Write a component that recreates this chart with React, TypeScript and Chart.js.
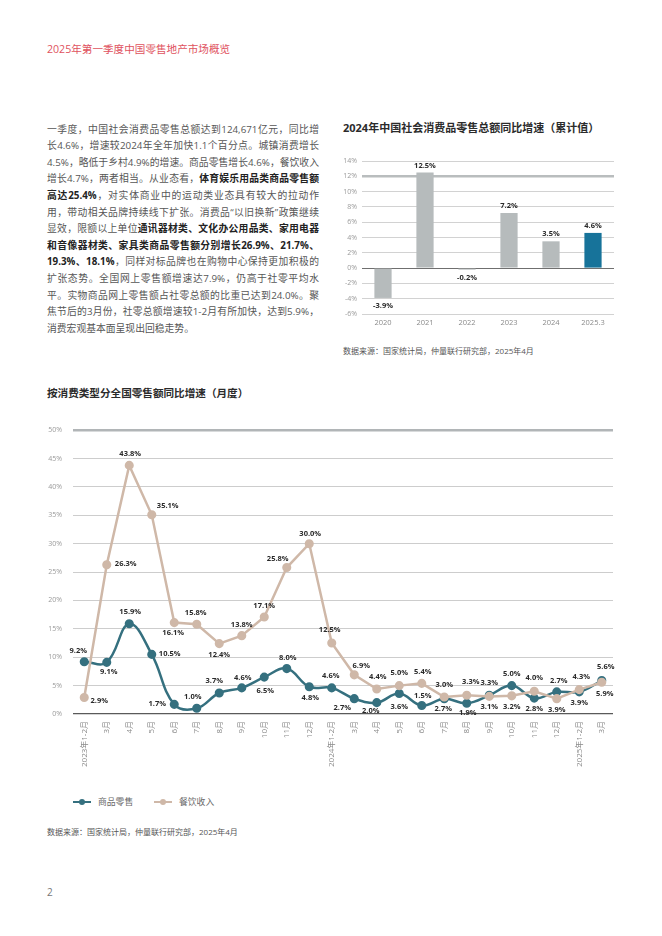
import React, { useEffect, useRef } from "react";
import { Chart, registerables } from "chart.js";

Chart.register(...registerables);

const FONT = '"Open Sans", "Noto Sans CJK SC", "Noto Sans", sans-serif';

// ---------- Bar chart data ----------
const barCategories = ["2020", "2021", "2022", "2023", "2024", "2025.3"];
const barValues = [-3.9, 12.5, -0.2, 7.2, 3.5, 4.6];
const barMin = -6;
const barMax = 14;
const barStep = 2;

// ---------- Line chart data ----------
const monthLabels = [
  "2023年1-2月", "3月", "4月", "5月", "6月", "7月", "8月", "9月", "10月", "11月", "12月",
  "2024年1-2月", "3月", "4月", "5月", "6月", "7月", "8月", "9月", "10月", "11月", "12月",
  "2025年1-2月", "3月",
];
const goodsValues = [
  9.2, 9.1, 15.9, 10.5, 1.7, 1.0, 3.7, 4.6, 6.5, 8.0, 4.8,
  4.6, 2.7, 2.0, 3.6, 1.5, 2.7, 1.9, 3.3, 5.0, 2.8, 3.9,
  3.9, 5.9,
];
const cateringValues = [
  2.9, 26.3, 43.8, 35.1, 16.1, 15.8, 12.4, 13.8, 17.1, 25.8, 30.0,
  12.5, 6.9, 4.4, 5.0, 5.4, 3.0, 3.3, 3.1, 3.2, 4.0, 2.7,
  4.3, 5.6,
];
const seriesNames = ["商品零售", "餐饮收入"];
const lineMin = 0;
const lineMax = 50;
const lineStep = 5;

// label placement (style only): offset of label centre from its point
const goodsLabelOffsets: [number, number][] = [
  [-6, -11], [2, 10], [1, -12], [18, -1], [-17, 0], [-4, -11], [-5, -12], [1, -10], [1, 14], [1, -11], [1, 11],
  [-1, -12], [-12, 9], [-6, 8], [0, 13], [1, -10], [-1, 10], [1, 10], [0, -12], [0, -12], [0, 11], [0, 18],
  [0, 11], [3, 13],
];
const cateringLabelOffsets: [number, number][] = [
  [15, 3], [19, -1], [1, -12], [16, -9], [-1, 10], [-1, -11], [0, 11], [0, -11], [0, -11], [-9, -9], [1, -10],
  [-2, -13], [7, -9], [1, -12], [0, -13], [1, -11], [0, -12], [4, -13], [0, 10], [0, 11], [0, -13], [2, -18],
  [2, -13], [4, -15],
];

const GOODS_COLOR = "#35707f";
const CATERING_COLOR = "#cfb8a8";
const BAR_GRAY = "#b6bbbc";
const BAR_BLUE = "#17739a";

const paragraph: [string, boolean][][] = [
  [["一季度，中国社会消费品零售总额达到124,671亿元，同比增", false]],
  [["长4.6%，增速较2024年全年加快1.1个百分点。城镇消费增长", false]],
  [["4.5%，略低于乡村4.9%的增速。商品零售增长4.6%，餐饮收入", false]],
  [["增长4.7%，两者相当。从业态看，", false], ["体育娱乐用品类商品零售额", true]],
  [["高达25.4%", true], ["，对实体商业中的运动类业态具有较大的拉动作", false]],
  [["用，带动相关品牌持续线下扩张。消费品“以旧换新”政策继续", false]],
  [["显效，限额以上单位", false], ["通讯器材类、文化办公用品类、家用电器", true]],
  [["和音像器材类、家具类商品零售额分别增长26.9%、21.7%、", true]],
  [["19.3%、18.1%", true], ["，同样对标品牌也在购物中心保持更加积极的", false]],
  [["扩张态势。全国网上零售额增速达7.9%，仍高于社零平均水", false]],
  [["平。实物商品网上零售额占社零总额的比重已达到24.0%。聚", false]],
  [["焦节后的3月份，社零总额增速较1-2月有所加快，达到5.9%，", false]],
  [["消费宏观基本面呈现出回稳走势。", false]],
];

const barLabelPlugin = {
  id: "barLabels",
  afterDatasetsDraw(chart: any) {
    const ctx = chart.ctx;
    ctx.save();
    ctx.font = `bold 7.5px ${FONT}`;
    ctx.fillStyle = "#2a2a2a";
    ctx.textAlign = "center";
    ctx.textBaseline = "middle";
    const meta = chart.getDatasetMeta(0);
    const ds = chart.data.datasets[0];
    meta.data.forEach((bar: any, i: number) => {
      const v = ds.data[i] as number;
      const y = v >= 0 ? bar.y - 7 : bar.y + 8;
      ctx.fillText(v.toFixed(1) + "%", bar.x, y);
    });
    ctx.restore();
  },
};

const lineLabelPlugin = {
  id: "lineLabels",
  afterDatasetsDraw(chart: any) {
    const ctx = chart.ctx;
    ctx.save();
    ctx.font = `bold 7.5px ${FONT}`;
    ctx.fillStyle = "#2a2a2a";
    ctx.textAlign = "center";
    ctx.textBaseline = "middle";
    chart.data.datasets.forEach((ds: any, di: number) => {
      const meta = chart.getDatasetMeta(di);
      const offs: [number, number][] = ds.labelOffsets;
      meta.data.forEach((pt: any, i: number) => {
        const v = ds.data[i] as number;
        const [dx, dy] = offs[i] || [0, -12];
        ctx.fillText(v.toFixed(1) + "%", pt.x + dx, pt.y + dy);
      });
    });
    ctx.restore();
  },
};

export default function App() {
  const barRef = useRef<HTMLCanvasElement>(null);
  const lineRef = useRef<HTMLCanvasElement>(null);

  useEffect(() => {
    document.body.style.margin = "0";
    const barChart = new Chart(barRef.current as HTMLCanvasElement, {
      type: "bar",
      data: {
        labels: barCategories,
        datasets: [
          {
            data: barValues,
            backgroundColor: barCategories.map((_, i) => (i === barCategories.length - 1 ? BAR_BLUE : BAR_GRAY)),
            categoryPercentage: 1,
            barPercentage: 0.41,
          },
        ],
      },
      options: {
        animation: false,
        responsive: false,
        devicePixelRatio: 1,
        layout: { padding: { top: 11, right: 6, left: 0, bottom: 0 } },
        plugins: { legend: { display: false }, tooltip: { enabled: false } },
        scales: {
          x: {
            grid: { display: false, drawTicks: false },
            border: { display: false },
            ticks: { color: "#8a8a8a", font: { family: FONT, size: 7.5 }, padding: 4, maxRotation: 0 },
            afterFit: (s: any) => { s.height = 18; },
          },
          y: {
            min: barMin,
            max: barMax,
            grid: {
              drawTicks: false,
              color: (c: any) => (c.tick && c.tick.value === 0 ? "#6f6f6f" : c.tick && c.tick.value === 12 ? "#b9bdbe" : "#d2d2d2"),
              lineWidth: (c: any) => (c.tick && c.tick.value === 12 ? 2.5 : 1),
            },
            border: { display: false },
            ticks: {
              stepSize: barStep,
              color: "#9a9a9a",
              font: { family: FONT, size: 7 },
              padding: 5,
              callback: (v: any) => v + "%",
            },
            afterFit: (s: any) => { s.width = 27; },
          },
        },
      },
      plugins: [barLabelPlugin],
    });

    const lineChart = new Chart(lineRef.current as HTMLCanvasElement, {
      type: "line",
      data: {
        labels: monthLabels,
        datasets: [
          {
            label: seriesNames[0],
            data: goodsValues,
            borderColor: GOODS_COLOR,
            backgroundColor: GOODS_COLOR,
            pointBackgroundColor: GOODS_COLOR,
            pointBorderColor: GOODS_COLOR,
            borderWidth: 2.5,
            pointRadius: 3.3,
            tension: 0.4,
            order: 1,
            labelOffsets: goodsLabelOffsets,
          } as any,
          {
            label: seriesNames[1],
            data: cateringValues,
            borderColor: CATERING_COLOR,
            backgroundColor: CATERING_COLOR,
            pointBackgroundColor: CATERING_COLOR,
            pointBorderColor: CATERING_COLOR,
            borderWidth: 2.5,
            pointRadius: 3.3,
            tension: 0,
            order: 0,
            labelOffsets: cateringLabelOffsets,
          } as any,
        ],
      },
      options: {
        animation: false,
        responsive: false,
        devicePixelRatio: 1,
        layout: { padding: { top: 13, right: 7, left: 0, bottom: 0 } },
        plugins: { legend: { display: false }, tooltip: { enabled: false } },
        scales: {
          x: {
            offset: true,
            grid: { display: false, drawTicks: false, offset: true },
            border: { display: false },
            ticks: {
              color: "#8a8a8a",
              font: { family: FONT, size: 8 },
              padding: 7,
              minRotation: 90,
              maxRotation: 90,
              autoSkip: false,
            },
            afterFit: (s: any) => { s.height = 76; },
          },
          y: {
            min: lineMin,
            max: lineMax,
            grid: {
              drawTicks: false,
              color: (c: any) => (c.tick && c.tick.value === 0 ? "#5a5a5a" : c.tick && c.tick.value === 50 ? "#b1b5b7" : "#cdcdcd"),
              lineWidth: (c: any) => (c.tick && c.tick.value === 50 ? 2.5 : c.tick && c.tick.value === 0 ? 1.3 : 1),
            },
            border: { display: false },
            ticks: {
              stepSize: lineStep,
              color: "#9a9a9a",
              font: { family: FONT, size: 7 },
              padding: 11,
              callback: (v: any) => v + "%",
            },
            afterFit: (s: any) => { s.width = 33; },
          },
        },
      },
      plugins: [lineLabelPlugin],
    });

    return () => {
      barChart.destroy();
      lineChart.destroy();
    };
  }, []);

  const abs = (left: number, top: number, extra: React.CSSProperties = {}): React.CSSProperties => ({
    position: "absolute",
    left,
    top,
    margin: 0,
    whiteSpace: "nowrap",
    ...extra,
  });

  const legendItem = (color: string, text: string, left: number) => (
    <div style={abs(left, 795, { display: "flex", alignItems: "center", height: 14 })}>
      <div style={{ position: "relative", width: 18, height: 14 }}>
        <div style={{ position: "absolute", left: 0, top: 6, width: 18, height: 2, background: color }} />
        <div style={{ position: "absolute", left: 6, top: 4, width: 6, height: 6, borderRadius: 3, background: color }} />
      </div>
      <span style={{ marginLeft: 7, fontSize: 8.8, color: "#6a6a6a", lineHeight: "14px" }}>{text}</span>
    </div>
  );

  return (
    <div style={{ position: "absolute", left: 0, top: 0, width: 662, height: 936, background: "#fff", fontFamily: FONT, overflow: "hidden" }}>
      <div style={abs(47, 42, { fontSize: 10.6, lineHeight: "14px", color: "#e0525e" })}>2025年第一季度中国零售地产市场概览</div>

      <div style={{ position: "absolute", left: 47, top: 121.7, width: 272 }}>
        {paragraph.map((line, li) => (
          <div
            key={li}
            style={{
              fontSize: 9.8,
              lineHeight: "16.6px",
              height: 16.6,
              color: "#565656",
              whiteSpace: "nowrap",
              textAlign: "justify",
              textAlignLast: li === paragraph.length - 1 ? "left" : "justify",
            } as React.CSSProperties}
          >
            {line.map(([t, b], si) => (
              <span key={si} style={b ? { fontWeight: 700, color: "#222" } : undefined}>{t}</span>
            ))}
          </div>
        ))}
      </div>

      <div style={abs(343, 121, { fontSize: 11, fontWeight: 700, lineHeight: "14px", color: "#2b2b2b" })}>2024年中国社会消费品零售总额同比增速（累计值）</div>
      <canvas ref={barRef} width={285} height={182} style={{ position: "absolute", left: 335, top: 150, width: 285, height: 182 }} />
      <div style={abs(343, 345, { fontSize: 8, lineHeight: "12px", color: "#555" })}>数据来源：国家统计局，仲量联行研究部，2025年4月</div>

      <div style={abs(47, 386, { fontSize: 10.6, fontWeight: 700, lineHeight: "14px", color: "#2b2b2b" })}>按消费类型分全国零售额同比增速（月度）</div>
      <canvas ref={lineRef} width={580} height={375} style={{ position: "absolute", left: 40, top: 415, width: 580, height: 375 }} />

      {legendItem(GOODS_COLOR, seriesNames[0], 73)}
      {legendItem(CATERING_COLOR, seriesNames[1], 154)}

      <div style={abs(47, 826, { fontSize: 8, lineHeight: "12px", color: "#555" })}>数据来源：国家统计局，仲量联行研究部，2025年4月</div>
      <div style={abs(47, 885, { fontSize: 10, lineHeight: "14px", color: "#777" })}>2</div>
    </div>
  );
}
